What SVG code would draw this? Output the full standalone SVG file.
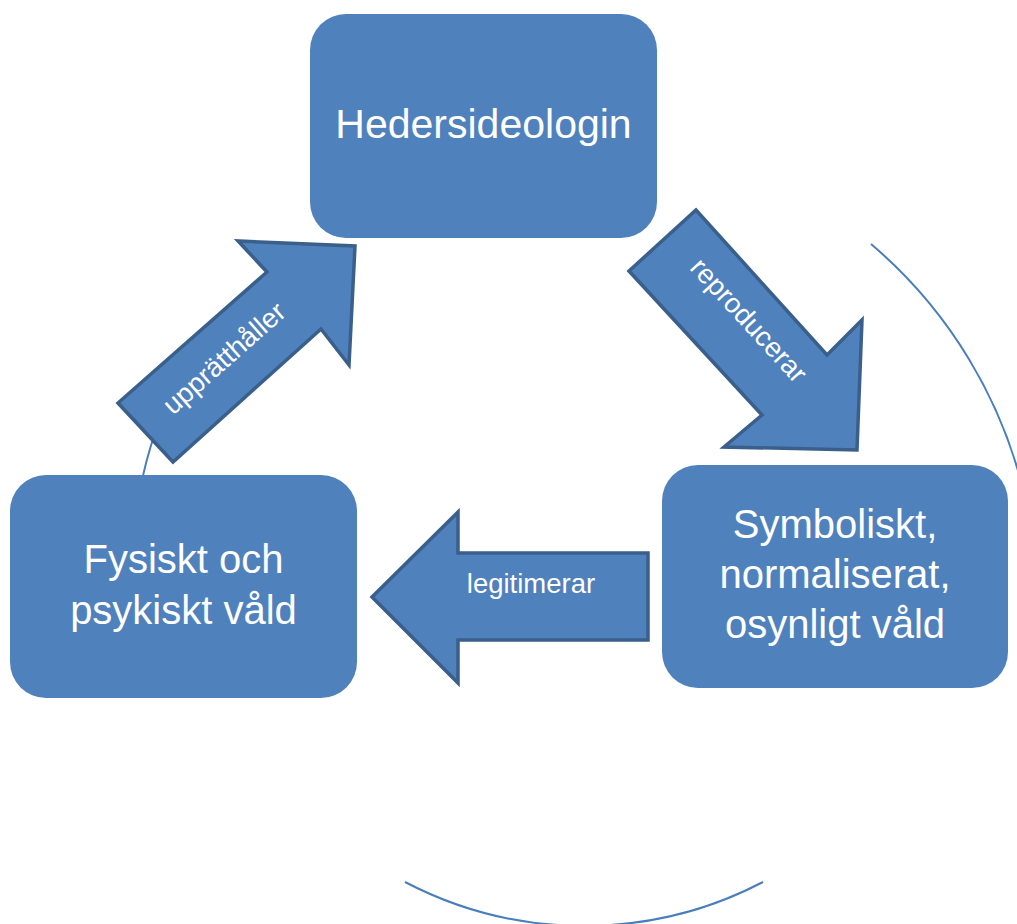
<svg xmlns="http://www.w3.org/2000/svg" width="1017" height="924" viewBox="0 0 1017 924">
<style>
.box{fill:#4f81bd;}
.arrow{fill:#4f81bd;stroke:#3a5f8b;stroke-width:3.5;stroke-linejoin:miter;}
.arc{fill:none;stroke:#4a7ebb;stroke-width:2;}
.t{font-family:"Liberation Sans",Arial,sans-serif;fill:#ffffff;text-anchor:middle;}
.big{font-size:40px;}
.small{font-size:27.5px;}
</style>
<rect width="1017" height="924" fill="#ffffff"/>
<g id="connectors">
<path class="arc" d="M871,244 A471,471 0 0 1 1025.6,500"/>
<path class="arc" d="M405,882 A387,387 0 0 0 763,882"/>
<path class="arc" d="M156,430 A440,440 0 0 0 139,495"/>
<g id="arrow-reproducerar">
<polygon class="arrow" points="629,271 696,210 827,355 862,320 857,450 724,447 762,415"/>
<text class="t small" transform="translate(749,320) rotate(47.5)" y="9.5">reproducerar</text>
</g>
<g id="arrow-upprathaller">
<polygon class="arrow" points="118,403 267,272 238,241 355,246 349,365 321,329 173,462"/>
<text class="t small" transform="translate(224,358) rotate(-41.5)" y="9.5">upprätthåller</text>
</g>
<g id="arrow-legitimerar">
<polygon class="arrow" points="372,597 458,512 458,553 648,553 648,640 458,640 458,683"/>
<text class="t small" x="531" y="593">legitimerar</text>
</g>
</g>
<g id="node-hedersideologin">
<rect class="box" x="310" y="14" width="347" height="224" rx="36" ry="36"/>
<text class="t big" x="483.5" y="138" style="font-size:41px">Hedersideologin</text>
</g>
<g id="node-symboliskt">
<rect class="box" x="662" y="465" width="346" height="223" rx="36" ry="36"/>
<text class="t big" x="835" y="538">Symboliskt,</text>
<text class="t big" x="835" y="588">normaliserat,</text>
<text class="t big" x="835" y="638">osynligt våld</text>
</g>
<g id="node-fysiskt">
<rect class="box" x="10" y="475" width="347" height="223" rx="36" ry="36"/>
<text class="t big" x="183.5" y="573">Fysiskt och</text>
<text class="t big" x="183.5" y="624">psykiskt våld</text>
</g>
</svg>
